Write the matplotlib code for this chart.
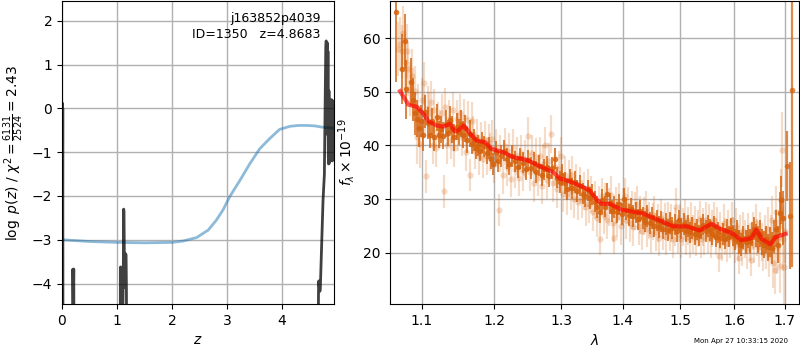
import matplotlib
matplotlib.use("Agg")
import matplotlib.pyplot as plt
from matplotlib.ticker import FixedLocator, FixedFormatter, NullLocator

# ---- redshift panel ----
z_grid = [0.000, 0.007, 0.010, 0.014, 0.020, 0.185, 0.198, 0.206, 0.214, 0.226,
          1.050, 1.062, 1.066, 1.072, 1.110, 1.118, 1.122, 1.128, 1.136, 1.145,
          1.152, 1.158, 1.166, 1.172, 1.185, 4.640, 4.668, 4.672, 4.690, 4.700,
          4.750, 4.775, 4.800, 4.808, 4.818, 4.826, 4.834, 4.840, 4.846, 4.852,
          4.858, 4.866, 4.872, 4.880, 4.888, 4.896, 4.904, 4.912, 4.920, 4.928,
          4.936, 4.950]
log_pz = [-9.0, 0.12, -3.0, 0.0, -9.0, -9.0, -3.67, -4.6, -3.67, -9.0,
          -9.0, -4.4, -3.62, -6.0, -4.4, -3.3, -2.30, -2.35, -3.6, -4.09,
          -3.6, -3.32, -3.35, -4.05, -9.0, -9.0, -4.2, -3.94, -4.18, -4.15,
          -2.11, -1.5, 1.40, 1.54, 1.20, 1.50, -0.60, 1.30, -1.10, -1.27,
          0.40, -1.25, 0.10, -1.20, -0.30, -1.10, 0.20, 0.19, -1.20, 0.17,
          -0.50, -0.40]

z_chi = [0.0, 0.5, 1.0, 1.5, 2.0, 2.2, 2.45, 2.66, 2.81, 2.93, 3.05, 3.24,
         3.42, 3.60, 3.78, 3.96, 4.15, 4.30, 4.45, 4.60, 4.69, 4.80, 4.93, 4.95]
chi_scaled = [-3.00, -3.04, -3.06, -3.07, -3.06, -3.03, -2.95, -2.78, -2.55,
              -2.32, -2.02, -1.64, -1.26, -0.92, -0.69, -0.48, -0.41, -0.39,
              -0.39, -0.40, -0.42, -0.44, -0.45, -0.45]

z_ticks = [0, 1, 2, 3, 4]
logp_ticks = [-4, -3, -2, -1, 0, 1, 2]

# ---- spectrum panel ----
model_lam = [1.0718, 1.0826, 1.0934, 1.1022, 1.1088, 1.1199, 1.1289, 1.1380,
             1.1448, 1.1494, 1.1572, 1.1656, 1.1749, 1.1867, 1.1962, 1.2131,
             1.2277, 1.2475, 1.2676, 1.2880, 1.2983, 1.3087, 1.3298, 1.3458,
             1.3566, 1.3648, 1.3785, 1.3979, 1.4347, 1.4631, 1.4871, 1.5111,
             1.5354, 1.5571, 1.5727, 1.5980, 1.6140, 1.6335, 1.6433, 1.6532,
             1.6711, 1.6818, 1.7021]
model_flux = [50.1, 47.6, 47.2, 45.9, 44.5, 43.7, 43.5, 44.0,
              42.6, 42.8, 43.7, 42.2, 40.9, 40.6, 39.35, 38.7,
              37.8, 37.3, 36.1, 35.0, 33.8, 33.5, 32.5, 31.6,
              29.9, 29.1, 29.1, 28.0, 27.3, 26.0, 24.9, 24.9,
              24.15, 25.4, 24.5, 23.5, 22.3, 22.7, 24.3, 22.6,
              21.55, 22.9, 23.5]

# binned spectrum
bin_lam = [1.0670, 1.0747, 1.0777, 1.0800, 1.0857, 1.0880, 1.0910, 1.0935,
           1.0960, 1.0990, 1.1020, 1.1050, 1.1080, 1.1110, 1.1140, 1.1170,
           1.1200, 1.1230, 1.1260, 1.1290, 1.1320, 1.1350, 1.1380, 1.1410,
           1.1440, 1.1470, 1.1500, 1.1530, 1.1560, 1.1590, 1.1620, 1.1650,
           1.1680, 1.1710, 1.1740, 1.1770, 1.1800, 1.1830, 1.1860, 1.1890,
           1.1920, 1.1950, 1.1985, 1.2020, 1.2060, 1.2100, 1.2140, 1.2180,
           1.2220, 1.2260, 1.2300, 1.2340, 1.2380, 1.2420, 1.2460, 1.2500,
           1.2540, 1.2580, 1.2620, 1.2660, 1.2700, 1.2740, 1.2780, 1.2820,
           1.2860, 1.2900, 1.2940, 1.2980, 1.3020, 1.3060, 1.3100, 1.3140,
           1.3180, 1.3220, 1.3260, 1.3300, 1.3340, 1.3380, 1.3420, 1.3460,
           1.3500, 1.3540, 1.3580, 1.3620, 1.3660, 1.3700, 1.3740, 1.3780,
           1.3820, 1.3860, 1.3900, 1.3940, 1.3980, 1.4020, 1.4060, 1.4100,
           1.4140, 1.4180, 1.4220, 1.4260, 1.4300, 1.4340, 1.4380, 1.4420,
           1.4460, 1.4500, 1.4540, 1.4580, 1.4620, 1.4660, 1.4700, 1.4740,
           1.4780, 1.4820, 1.4860, 1.4900, 1.4940, 1.4980, 1.5020, 1.5060,
           1.5100, 1.5140, 1.5180, 1.5220, 1.5260, 1.5300, 1.5340, 1.5380,
           1.5420, 1.5460, 1.5500, 1.5540, 1.5580, 1.5620, 1.5660, 1.5700,
           1.5740, 1.5780, 1.5820, 1.5860, 1.5900, 1.5940, 1.5980, 1.6020,
           1.6060, 1.6100, 1.6140, 1.6180, 1.6220, 1.6260, 1.6300, 1.6340,
           1.6380, 1.6420, 1.6460, 1.6500, 1.6540, 1.6580, 1.6620, 1.6660,
           1.6700, 1.6740, 1.6780, 1.6820, 1.6860, 1.6900, 1.6930, 1.6960]
bin_flux = [64.9, 54.2, 59.5, 50.5, 51.8, 48.5, 46.0, 45.0,
            43.2, 44.5, 42.0, 46.3, 44.2, 42.0, 44.5, 41.5,
            45.2, 42.0, 43.0, 41.8, 44.0, 42.3, 44.8, 43.0,
            41.5, 43.5, 42.5, 44.0, 42.0, 43.2, 41.0, 42.2,
            40.3, 41.0, 39.5, 40.0, 39.0, 40.5, 39.8, 38.5,
            39.5, 37.5, 36.5, 38.8, 37.0, 38.0, 39.0, 37.5,
            36.5, 38.0, 37.0, 36.0, 37.6, 36.8, 35.5, 37.2,
            35.8, 36.8, 35.0, 36.2, 34.5, 35.5, 36.0, 34.2,
            35.8, 37.5, 34.0, 33.2, 34.5, 33.0, 31.8, 33.5,
            32.0, 33.2, 31.5, 32.5, 31.0, 30.5, 31.6, 30.2,
            30.8, 29.5, 28.5, 27.5, 29.8, 28.6, 31.0, 29.2,
            27.8, 28.5, 27.5, 29.0, 27.2, 30.0, 28.0, 27.0,
            28.2, 26.8, 27.5, 26.2, 27.8, 26.5, 25.8, 26.8,
            25.5, 26.5, 25.0, 26.0, 24.8, 25.8, 24.5, 25.3,
            24.2, 25.5, 24.6, 25.2, 24.0, 26.0, 24.5, 25.3,
            24.0, 25.0, 23.8, 24.6, 23.5, 24.3, 23.2, 24.5,
            25.2, 24.0, 25.0, 24.2, 23.5, 24.8, 23.0, 23.8,
            22.8, 23.5, 22.6, 24.2, 23.0, 24.5, 23.2, 22.5,
            23.8, 22.0, 21.5, 22.8, 22.0, 23.0, 22.2, 23.5,
            24.5, 23.2, 22.5, 23.5, 22.0, 21.5, 22.5, 21.0,
            22.0, 20.8, 23.0, 24.5, 21.5, 27.3, 29.8, 26.5]
bin_err = [13.0, 6.5, 5.0, 5.5, 4.5, 4.0, 4.0, 3.5,
           3.5, 3.0, 3.0, 3.0, 3.0, 2.5, 2.5, 2.5,
           2.5, 2.5, 2.5, 2.5, 2.5, 2.5, 2.5, 2.5,
           2.5, 2.5, 2.5, 2.5, 2.5, 2.5, 2.5, 2.5,
           2.0, 2.0, 2.0, 2.0, 2.0, 2.0, 2.0, 2.0,
           2.0, 2.0, 2.0, 2.0, 2.0, 2.0, 2.0, 2.0,
           2.0, 2.0, 2.0, 2.0, 2.0, 2.0, 2.0, 2.0,
           2.0, 2.0, 2.0, 2.0, 2.0, 2.0, 2.0, 2.0,
           2.0, 2.0, 2.0, 2.0, 2.0, 2.0, 2.0, 2.0,
           2.0, 2.0, 2.0, 2.0, 2.0, 2.0, 2.0, 2.0,
           2.0, 2.0, 2.0, 2.0, 2.0, 2.0, 2.0, 2.0,
           2.0, 2.0, 2.0, 2.0, 2.0, 2.0, 2.0, 2.0,
           2.0, 2.0, 2.0, 2.0, 2.0, 2.0, 2.0, 2.0,
           2.0, 2.0, 2.0, 2.0, 2.0, 2.0, 2.0, 2.0,
           2.0, 2.0, 2.0, 2.0, 2.0, 2.0, 2.0, 2.0,
           2.0, 2.0, 2.0, 2.0, 2.0, 2.0, 2.0, 2.0,
           2.0, 2.0, 2.0, 2.0, 2.0, 2.0, 2.0, 2.0,
           2.0, 2.0, 2.0, 2.0, 2.0, 2.0, 2.0, 2.0,
           2.2, 2.2, 2.2, 2.2, 2.2, 2.2, 2.2, 2.2,
           2.2, 2.2, 2.5, 2.5, 2.5, 2.5, 2.5, 2.5,
           2.8, 3.0, 3.0, 3.5, 3.5, 4.0, 4.5, 5.0]

# last bins at the red end of the grism
edge_lam = [1.7047, 1.7116, 1.7143]
edge_flux = [36.2, 26.9, 50.4]
edge_err = [6.5, 10.0, 33.0]

# individual (unbinned) pixels
raw_lam = [1.0690, 1.0718, 1.0740, 1.0761, 1.0785, 1.0810, 1.0826, 1.0845,
           1.0870, 1.0890, 1.0910, 1.0935, 1.0955, 1.0978, 1.1000, 1.1025,
           1.1045, 1.1057, 1.1080, 1.1100, 1.1125, 1.1150, 1.1170, 1.1195,
           1.1220, 1.1245, 1.1270, 1.1294, 1.1310, 1.1340, 1.1360, 1.1390,
           1.1415, 1.1440, 1.1470, 1.1495, 1.1520, 1.1545, 1.1570, 1.1600,
           1.1625, 1.1656, 1.1680, 1.1705, 1.1730, 1.1760, 1.1785, 1.1810,
           1.1840, 1.1865, 1.1890, 1.1920, 1.1945, 1.1970, 1.2000, 1.2030,
           1.2069, 1.2090, 1.2120, 1.2150, 1.2180, 1.2210, 1.2240, 1.2270,
           1.2300, 1.2330, 1.2360, 1.2390, 1.2420, 1.2450, 1.2497, 1.2520,
           1.2550, 1.2580, 1.2610, 1.2640, 1.2670, 1.2700, 1.2730, 1.2760,
           1.2790, 1.2820, 1.2852, 1.2880, 1.2910, 1.2940, 1.2970, 1.3000,
           1.3030, 1.3060, 1.3090, 1.3120, 1.3150, 1.3180, 1.3210, 1.3240,
           1.3270, 1.3300, 1.3330, 1.3360, 1.3390, 1.3420, 1.3450, 1.3480,
           1.3510, 1.3540, 1.3570, 1.3600, 1.3621, 1.3650, 1.3680, 1.3710,
           1.3740, 1.3770, 1.3800, 1.3830, 1.3850, 1.3880, 1.3910, 1.3940,
           1.3970, 1.4000, 1.4030, 1.4060, 1.4090, 1.4120, 1.4150, 1.4180,
           1.4210, 1.4240, 1.4270, 1.4300, 1.4330, 1.4360, 1.4390, 1.4420,
           1.4450, 1.4480, 1.4510, 1.4540, 1.4570, 1.4600, 1.4630, 1.4660,
           1.4690, 1.4720, 1.4750, 1.4780, 1.4810, 1.4840, 1.4870, 1.4900,
           1.4930, 1.4960, 1.4990, 1.5020, 1.5050, 1.5080, 1.5110, 1.5140,
           1.5170, 1.5200, 1.5230, 1.5260, 1.5290, 1.5320, 1.5350, 1.5380,
           1.5410, 1.5440, 1.5470, 1.5500, 1.5530, 1.5560, 1.5590, 1.5620,
           1.5650, 1.5680, 1.5710, 1.5740, 1.5770, 1.5800, 1.5830, 1.5860,
           1.5890, 1.5920, 1.5950, 1.5980, 1.6010, 1.6040, 1.6070, 1.6096,
           1.6120, 1.6150, 1.6180, 1.6210, 1.6240, 1.6270, 1.6300, 1.6335,
           1.6360, 1.6390, 1.6420, 1.6450, 1.6480, 1.6510, 1.6540, 1.6570,
           1.6600, 1.6630, 1.6660, 1.6690, 1.6720, 1.6740, 1.6760, 1.6797,
           1.6820, 1.6850, 1.6880, 1.6900, 1.6920, 1.6940, 1.6960, 1.6980,
           1.7000]
raw_flux = [58.0, 58.9, 57.5, 61.0, 55.5, 57.6, 54.2, 50.5,
            53.0, 49.5, 50.2, 41.5, 47.0, 40.3, 48.5, 51.6,
            45.5, 34.2, 47.0, 46.0, 48.0, 40.0, 46.5, 39.5,
            44.5, 43.0, 46.0, 31.4, 47.2, 40.0, 45.0, 41.0,
            46.5, 39.5, 45.0, 42.5, 46.0, 41.5, 45.2, 38.8,
            44.8, 34.4, 44.5, 42.0, 39.0, 41.5, 38.0, 40.8,
            37.5, 41.0, 38.0, 40.5, 38.8, 41.2, 36.5, 39.5,
            28.0, 38.5, 34.5, 39.8, 36.0, 38.8, 33.8, 39.5,
            35.5, 38.0, 34.0, 38.5, 35.0, 37.5, 41.8, 35.0,
            38.5, 33.0, 37.8, 34.0, 38.0, 32.5, 36.5, 40.0,
            33.5, 37.0, 42.1, 33.0, 36.0, 31.8, 35.5, 38.0,
            31.0, 34.5, 30.5, 33.8, 31.5, 34.5, 30.0, 33.0,
            29.5, 32.5, 30.0, 31.5, 28.5, 32.0, 29.0, 30.8,
            27.5, 29.8, 26.5, 29.0, 22.6, 30.5, 27.0, 29.5,
            26.0, 28.5, 30.8, 25.5, 22.8, 28.8, 26.5, 29.5,
            25.0, 28.5, 30.5, 26.0, 28.8, 25.5, 28.0, 24.8,
            27.8, 29.0, 25.0, 27.0, 24.0, 26.8, 28.0, 24.5,
            26.0, 23.5, 25.8, 27.0, 23.8, 25.5, 22.8, 26.5,
            24.0, 25.8, 23.0, 26.0, 23.8, 25.5, 22.5, 24.8,
            28.5, 23.5, 25.5, 22.5, 24.8, 26.5, 23.0, 25.0,
            22.5, 26.0, 23.5, 25.2, 22.8, 24.5, 26.2, 22.5,
            24.8, 23.0, 26.0, 23.5, 25.5, 22.5, 24.5, 26.0,
            23.0, 25.0, 19.3, 24.0, 22.0, 25.5, 23.0, 21.8,
            24.5, 22.5, 26.0, 23.2, 21.5, 24.8, 22.0, 19.0,
            23.5, 21.0, 24.0, 22.5, 20.5, 23.8, 22.0, 18.7,
            24.0, 21.5, 25.5, 22.8, 20.8, 24.0, 22.0, 20.0,
            23.5, 21.0, 24.5, 19.5, 22.5, 26.0, 18.0, 16.7,
            27.5, 21.0, 23.0, 17.5, 30.0, 39.2, 22.5, 17.3,
            24.0]
raw_err = [5.0, 5.0, 5.0, 5.0, 5.0, 5.0, 5.0, 5.0,
           5.0, 5.0, 4.5, 5.0, 4.5, 4.5, 4.0, 4.0,
           4.0, 3.0, 4.0, 4.0, 4.0, 3.5, 4.0, 3.5,
           3.5, 3.5, 3.5, 3.0, 3.5, 3.5, 3.5, 3.5,
           3.5, 3.5, 3.5, 3.5, 3.5, 3.5, 3.5, 3.5,
           3.5, 3.0, 3.5, 3.5, 3.5, 3.5, 3.5, 3.5,
           3.5, 3.5, 3.5, 3.5, 3.5, 3.5, 3.5, 3.5,
           3.0, 3.5, 3.5, 3.5, 3.5, 3.5, 3.5, 3.5,
           3.5, 3.5, 3.5, 3.5, 3.5, 3.5, 3.5, 3.5,
           3.5, 3.5, 3.5, 3.5, 3.5, 3.5, 3.5, 3.5,
           3.5, 3.5, 3.5, 3.5, 3.5, 3.5, 3.5, 3.5,
           3.5, 3.5, 3.5, 3.5, 3.5, 3.5, 3.5, 3.5,
           3.5, 3.5, 3.5, 3.5, 3.5, 3.5, 3.5, 3.5,
           3.5, 3.5, 3.5, 3.5, 3.0, 3.5, 3.5, 3.5,
           3.5, 3.5, 3.5, 3.5, 3.0, 3.5, 3.5, 3.5,
           3.5, 3.5, 3.5, 3.5, 3.5, 3.5, 3.5, 3.5,
           3.5, 3.5, 3.5, 3.5, 3.5, 3.5, 3.5, 3.5,
           3.5, 3.5, 3.5, 3.5, 3.5, 3.5, 3.5, 3.5,
           3.5, 3.5, 3.5, 3.5, 3.5, 3.5, 3.5, 3.5,
           3.5, 3.5, 3.5, 3.5, 3.5, 3.5, 3.5, 3.5,
           3.5, 3.5, 3.5, 3.5, 3.5, 3.5, 3.5, 3.5,
           3.5, 3.5, 3.5, 3.5, 3.5, 3.5, 3.5, 3.5,
           3.5, 3.5, 3.0, 3.5, 3.5, 3.5, 3.5, 3.5,
           3.5, 3.5, 3.5, 3.5, 3.5, 3.5, 3.5, 3.0,
           3.5, 3.5, 3.5, 3.5, 3.5, 3.5, 3.5, 3.0,
           3.5, 3.5, 3.5, 3.5, 3.5, 3.5, 3.5, 3.5,
           3.5, 4.0, 4.0, 4.0, 4.5, 4.5, 4.5, 4.5,
           5.0, 5.0, 5.0, 5.0, 5.5, 7.0, 6.0, 7.0,
           6.0]

lam_ticks = [1.1, 1.2, 1.3, 1.4, 1.5, 1.6, 1.7]
flux_ticks = [20, 30, 40, 50, 60]

spec_color = "#d5620c"

fig = plt.figure(figsize=(8, 3.5), dpi=100)
ax1 = fig.add_axes([0.0775, 0.131, 0.34, 0.866])
ax2 = fig.add_axes([0.4875, 0.131, 0.511, 0.866])

# p(z) panel
ax1.plot(z_chi, chi_scaled, color="C0", alpha=0.5, lw=2)
ax1.plot(z_grid, log_pz, color="k", alpha=0.75, lw=2)
ax1.set_xlim(0, 4.95)
ax1.set_ylim(-4.47, 2.45)
ax1.set_xticks(z_ticks)
ax1.set_yticks(logp_ticks)
ax1.grid(True, color="#b0b0b0", lw=1.0)
ax1.set_axisbelow(True)
ax1.set_xlabel(r"$z$")
ax1.set_ylabel(r"$\log\ p(z)$ / $\chi^2=\frac{6131}{2524}=2.43$")
ax1.text(0.95, 0.965, "j163852p4039\nID=1350   z=4.8683", transform=ax1.transAxes,
         ha="right", va="top", fontsize=9, linespacing=1.3)

# spectrum panel
ax2.errorbar(raw_lam, raw_flux, yerr=raw_err, fmt="o", ms=4.5, mew=0,
             color=spec_color, alpha=0.22, elinewidth=1.6, capsize=0)
ax2.errorbar(bin_lam, bin_flux, yerr=bin_err, fmt="o", ms=4, mew=0,
             color=spec_color, alpha=0.85, elinewidth=1.3, capsize=0)
ax2.errorbar(edge_lam, edge_flux, yerr=edge_err, fmt="o", ms=4, mew=0,
             color=spec_color, alpha=0.75, elinewidth=1.6, capsize=0)
ax2.plot(model_lam, model_flux, color="r", alpha=0.65, lw=3, zorder=5)

ax2.set_xscale("log")
ax2.set_xlim(1.059, 1.729)
ax2.set_ylim(10.4, 66.9)
ax2.xaxis.set_major_locator(FixedLocator(lam_ticks))
ax2.xaxis.set_major_formatter(FixedFormatter([f"{t:.1f}" for t in lam_ticks]))
ax2.xaxis.set_minor_locator(NullLocator())
ax2.set_yticks(flux_ticks)
ax2.grid(True, color="#b0b0b0", lw=1.0)
ax2.set_axisbelow(True)
ax2.set_xlabel(r"$\lambda$")
ax2.set_ylabel(r"$f_\lambda\times10^{-19}$")

fig.text(0.985, 0.018, "Mon Apr 27 10:33:15 2020", ha="right", va="bottom",
         fontsize=5)

fig.savefig("out.png", dpi=100)
